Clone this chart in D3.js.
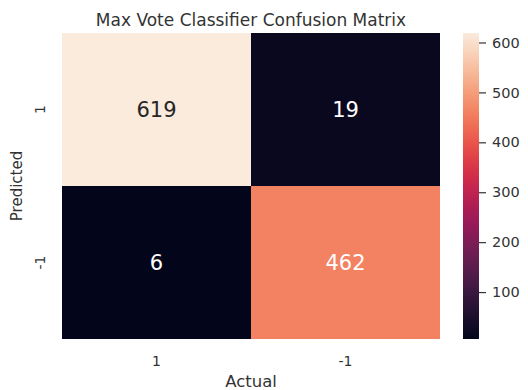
<!DOCTYPE html>
<html>
<head>
<meta charset="utf-8">
<script src="https://cdn.jsdelivr.net/npm/d3@7"></script>
<style>
  html, body { margin: 0; padding: 0; background: #fff; }
  text { font-family: "DejaVu Sans", sans-serif; }
</style>
</head>
<body>
<svg id="chart" width="528" height="390"></svg>
<script>
// Confusion matrix: rows = predicted, columns = actual
const classLabels = ["1", "-1"];
const matrixValues = [
  [619, 19],
  [6, 462]
];
const colorbarTicks = [100, 200, 300, 400, 500, 600];

// Seaborn "rocket" colormap stops
const rocketStops = ["#03051a", "#35193e", "#701f57", "#ad1759", "#e13342", "#f37651", "#f6b48f", "#faebdd"];

const svg = d3.select("#chart");
const textColor = "#333333";

const margin = { left: 62, top: 33, right: 440, bottom: 339 };

const x = d3.scaleBand().domain(classLabels).range([margin.left, margin.right]);
const y = d3.scaleBand().domain(classLabels).range([margin.top, margin.bottom]);

const flat = matrixValues.flat();
const vmin = d3.min(flat), vmax = d3.max(flat);
const rocket = d3.interpolateRgbBasis(rocketStops);
const color = d3.scaleSequential(rocket).domain([vmin, vmax]);

const cells = [];
matrixValues.forEach((row, i) => row.forEach((v, j) => cells.push({ pred: classLabels[i], act: classLabels[j], v })));

svg.append("g").selectAll("rect").data(cells).join("rect")
  .attr("x", d => x(d.act))
  .attr("y", d => y(d.pred))
  .attr("width", x.bandwidth())
  .attr("height", y.bandwidth())
  .attr("fill", d => color(d.v));

// luminance check for annotation colour
function lum(c) {
  const rgb = d3.rgb(c);
  const f = v => { v /= 255; return v <= 0.03928 ? v / 12.92 : Math.pow((v + 0.055) / 1.055, 2.4); };
  return 0.2126 * f(rgb.r) + 0.7152 * f(rgb.g) + 0.0722 * f(rgb.b);
}

svg.append("g").selectAll("text").data(cells).join("text")
  .attr("x", d => x(d.act) + x.bandwidth() / 2)
  .attr("y", d => y(d.pred) + y.bandwidth() / 2)
  .attr("text-anchor", "middle")
  .attr("dominant-baseline", "central")
  .attr("font-size", 21)
  .attr("fill", d => lum(color(d.v)) > 0.408 ? "#262626" : "#ffffff")
  .text(d => d.v);

// X axis tick labels
svg.append("g").selectAll("text").data(classLabels).join("text")
  .attr("x", d => x(d) + x.bandwidth() / 2)
  .attr("y", 365.5)
  .attr("text-anchor", "middle")
  .attr("font-size", 14)
  .attr("fill", textColor)
  .text(d => d);

// Y axis tick labels (rotated)
svg.append("g").selectAll("text").data(classLabels).join("text")
  .attr("transform", d => `translate(45,${y(d) + y.bandwidth() / 2}) rotate(-90)`)
  .attr("text-anchor", "middle")
  .attr("font-size", 14)
  .attr("fill", textColor)
  .text(d => d);

// Axis titles
svg.append("text")
  .attr("x", (margin.left + margin.right) / 2)
  .attr("y", 386.5)
  .attr("text-anchor", "middle")
  .attr("font-size", 16.5)
  .attr("fill", textColor)
  .text("Actual");

svg.append("text")
  .attr("transform", `translate(22,${(margin.top + margin.bottom) / 2}) rotate(-90)`)
  .attr("text-anchor", "middle")
  .attr("font-size", 15)
  .attr("fill", textColor)
  .text("Predicted");

// Title
svg.append("text")
  .attr("x", (margin.left + margin.right) / 2)
  .attr("y", 25.5)
  .attr("text-anchor", "middle")
  .attr("font-size", 17)
  .attr("fill", textColor)
  .text("Max Vote Classifier Confusion Matrix");

// Colorbar
const cbX = 463, cbW = 16;
const cbScale = d3.scaleLinear().domain([vmin, vmax]).range([margin.bottom, margin.top]);
const defs = svg.append("defs");
const grad = defs.append("linearGradient").attr("id", "cbgrad")
  .attr("x1", 0).attr("y1", 1).attr("x2", 0).attr("y2", 0);
d3.range(0, 1.0001, 0.02).forEach(t => {
  grad.append("stop").attr("offset", t).attr("stop-color", rocket(t));
});
svg.append("rect")
  .attr("x", cbX).attr("y", margin.top)
  .attr("width", cbW).attr("height", margin.bottom - margin.top)
  .attr("fill", "url(#cbgrad)");

const cbAxis = d3.axisRight(cbScale).tickValues(colorbarTicks).tickSize(7).tickPadding(6);
const cbG = svg.append("g").attr("transform", `translate(${cbX + cbW},0)`).call(cbAxis);
cbG.select(".domain").remove();
cbG.selectAll(".tick line").attr("stroke", textColor).attr("stroke-width", 1.2);
cbG.selectAll(".tick text").attr("fill", textColor).attr("font-size", 14.5)
  .attr("font-family", "DejaVu Sans, sans-serif");
</script>
</body>
</html>
